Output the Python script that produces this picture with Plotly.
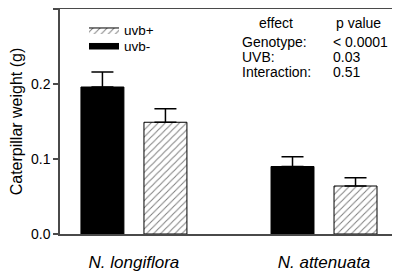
import plotly.graph_objects as go

species = ["N. longiflora", "N. attenuata"]
groups = [0, 1]
uvb_minus = [0.196, 0.090]
uvb_minus_err = [0.020, 0.013]
uvb_plus = [0.149, 0.064]
uvb_plus_err = [0.018, 0.011]

effects = ["Genotype:", "UVB:", "Interaction:"]
pvalues = ["< 0.0001", "0.03", "0.51"]

FONT = "Liberation Sans, Arial, sans-serif"
AX = "#4a4a4a"
HATCH = dict(shape="/", fgcolor="black", bgcolor="white", size=5, solidity=0.2)

# page body has an 8px margin: figure occupies window px 8..400 x 8..273
OFF = 8
W, H = 400 - OFF, 273 - OFF
PL, PR, PT, PB = 60, 397, 9.3, 234.3  # plot area in window pixels

fig = go.Figure()
fig.add_trace(go.Bar(
    x=groups, y=uvb_minus, name="uvb-", showlegend=False,
    marker=dict(color="black", line=dict(color="black", width=1)),
    error_y=dict(type="data", array=uvb_minus_err, symmetric=False,
                 arrayminus=[0, 0], color="black", thickness=1.5, width=11),
))
fig.add_trace(go.Bar(
    x=groups, y=uvb_plus, name="uvb+", showlegend=False,
    marker=dict(color="white", line=dict(color="black", width=1), pattern=HATCH),
    error_y=dict(type="data", array=uvb_plus_err, symmetric=False,
                 arrayminus=[0, 0], color="black", thickness=1.5, width=11),
))
# legend entries (no data drawn)
fig.add_trace(go.Scatter(
    x=[None], y=[None], name="uvb+", mode="lines", fill="toself",
    fillcolor="white", fillpattern=HATCH, line=dict(color="black", width=1),
    legend="legend",
))
fig.add_trace(go.Scatter(
    x=[None], y=[None], name="uvb-", mode="lines", fill="toself",
    fillcolor="black", line=dict(color="black", width=1),
    legend="legend2",
))


def px_x(p):
    return (p - PL) / (PR - PL)


def px_y(p):
    return (PB - p) / (PB - PT)


anns = [
    dict(x=px_x(276), y=px_y(23), text="effect", xanchor="center"),
    dict(x=px_x(358), y=px_y(23), text="p value", xanchor="center"),
]
for i, (e, p) in enumerate(zip(effects, pvalues)):
    yy = px_y(42 + 15 * i)
    anns.append(dict(x=px_x(240), y=yy, text=e, xanchor="left"))
    anns.append(dict(x=px_x(331), y=yy, text=p, xanchor="left"))
for a in anns:
    a.update(xref="paper", yref="paper", yanchor="middle", showarrow=False,
             font=dict(size=14, color="black", family=FONT))

leg_common = dict(xanchor="left", yanchor="middle", bgcolor="rgba(0,0,0,0)",
                  font=dict(size=13.5, family=FONT, color="black"),
                  itemclick=False, itemdoubleclick=False, borderwidth=0)

fig.update_layout(
    width=W, height=H,
    margin=dict(l=PL - OFF, r=(W + OFF) - PR, t=PT - OFF, b=(H + OFF) - PB,
                pad=0, autoexpand=False),
    paper_bgcolor="white", plot_bgcolor="white",
    barmode="group", bargap=0.337, bargroupgap=0.318,
    font=dict(family=FONT, size=14, color="black"),
    showlegend=True,
    legend=dict(x=px_x(84), y=px_y(30.5), **leg_common),
    legend2=dict(x=px_x(84), y=px_y(46), **leg_common),
    annotations=anns,
    xaxis=dict(
        range=[-0.389, 1.384], tickvals=groups,
        ticktext=["<i>" + s + "</i>" for s in species],
        showline=True, linecolor=AX, linewidth=1.5, mirror=True,
        ticks="", showgrid=False, zeroline=False, ticklabelstandoff=12,
        tickfont=dict(size=17, family=FONT, color="black"),
    ),
    yaxis=dict(
        range=[0, 0.3], tickvals=[0, 0.1, 0.2, 0.3],
        ticktext=["0.0", "0.1", "0.2", "0.3"],
        showline=True, linecolor=AX, linewidth=1.5, mirror=True,
        ticks="outside", ticklen=5, tickcolor=AX, tickwidth=1.5,
        showgrid=False, zeroline=False,
        tickfont=dict(size=14, family=FONT, color="black"),
        title=dict(text="Caterpillar weight (g)", standoff=6,
                   font=dict(size=16, family=FONT, color="black")),
    ),
)

fig.write_html("out.html")
